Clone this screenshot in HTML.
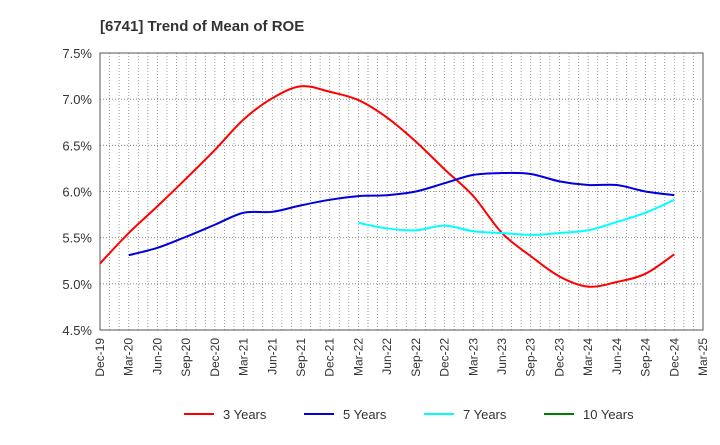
<!DOCTYPE html>
<html><head><meta charset="utf-8"><style>
body{margin:0;background:#fff;font-family:"Liberation Sans",sans-serif;}
</style></head><body>
<svg width="720" height="440" xmlns="http://www.w3.org/2000/svg" font-family="Liberation Sans, sans-serif">
<text x="100" y="31" font-size="15" font-weight="bold" fill="#333">[6741]  Trend of Mean of ROE</text>
<g id="grid"></g><g id="axes"></g><g id="series"></g><g id="legend"></g>
</svg>
<script>
const xLabels=["Dec-19","Mar-20","Jun-20","Sep-20","Dec-20","Mar-21","Jun-21","Sep-21","Dec-21","Mar-22","Jun-22","Sep-22","Dec-22","Mar-23","Jun-23","Sep-23","Dec-23","Mar-24","Jun-24","Sep-24","Dec-24","Mar-25"];
const yTicks=[4.5,5.0,5.5,6.0,6.5,7.0,7.5];
const seriesNames=["3 Years","5 Years","7 Years","10 Years"];
const seriesColors=["#ff0000","#0000dd","#00ffff","#008000"];
const s3=[5.22,5.55,5.84,6.14,6.45,6.78,7.01,7.14,7.08,6.99,6.80,6.54,6.24,5.95,5.55,5.30,5.08,4.97,5.02,5.11,5.32];
const s5=[null,5.31,5.39,5.51,5.64,5.77,5.78,5.85,5.91,5.95,5.96,6.00,6.09,6.18,6.20,6.19,6.11,6.07,6.07,6.00,5.96];
const s7=[null,null,null,null,null,null,null,null,null,5.66,5.60,5.58,5.63,5.57,5.55,5.53,5.55,5.58,5.67,5.77,5.91];
const s10=[];
const L=100,R=703,T=53,B=330;
const xs=i=>L+i*(R-L)/(xLabels.length-1);
const ys=v=>B-(v-4.5)/(7.5-4.5)*(B-T);
const NS="http://www.w3.org/2000/svg";
function mk(tag,attrs,parent){const e=document.createElementNS(NS,tag);for(const k in attrs)e.setAttribute(k,attrs[k]);parent.appendChild(e);return e;}
const grid=document.getElementById('grid'),axes=document.getElementById('axes'),ser=document.getElementById('series'),leg=document.getElementById('legend');
for(let m=1;m<(xLabels.length-1)*3;m++){const x=L+m*(R-L)/((xLabels.length-1)*3);
 const g=mk('line',{x1:x,x2:x,y1:T,y2:B,stroke:'#888','stroke-dasharray':'1,2','stroke-width':0.8},grid);
 
 }
yTicks.forEach(v=>{const y=ys(v);
 const g=mk('line',{x1:L,x2:R,y1:y,y2:y,stroke:'#777','stroke-dasharray':'1,2','stroke-width':0.8},grid);
 
 
 const t=mk('text',{x:L-8,y:y+5,'text-anchor':'end','font-size':13,fill:'#333'},axes);t.textContent=v.toFixed(1)+'%';
 
 });
const fr=mk('rect',{x:L,y:T,width:R-L,height:B-T,fill:'none',stroke:'#555','stroke-width':1},axes);


xLabels.forEach((lab,i)=>{const x=xs(i);
 const t=mk('text',{transform:`translate(${x+4},${B+8}) rotate(-90)`,'text-anchor':'end','font-size':12,fill:'#333'},axes);t.textContent=lab;
 
 });
function path(arr){const p=[];arr.forEach((v,i)=>{if(v!=null)p.push([xs(i),ys(v)]);});
 if(p.length<2)return '';let d=`M${p[0][0]},${p[0][1]}`;
 for(let i=0;i<p.length-1;i++){const p0=p[i-1]||p[i],p1=p[i],p2=p[i+1],p3=p[i+2]||p2;
  d+=` C${p1[0]+(p2[0]-p0[0])/6},${p1[1]+(p2[1]-p0[1])/6} ${p2[0]-(p3[0]-p1[0])/6},${p2[1]-(p3[1]-p1[1])/6} ${p2[0]},${p2[1]}`;}
 return d;}
[s3,s5,s7,s10].forEach((arr,k)=>{const d=path(arr);if(!d)return;
 const e=mk('path',{d:d,fill:'none',stroke:seriesColors[k],'stroke-width':2},ser);
 
 });
const lx=[184,304,424,544];
seriesNames.forEach((n,k)=>{
 const l=mk('line',{x1:lx[k],x2:lx[k]+30,y1:414,y2:414,stroke:seriesColors[k],'stroke-width':2},leg);
 
 
 const t=mk('text',{x:lx[k]+39,y:419,'font-size':13,fill:'#333'},leg);t.textContent=n;
 
 });
</script>
</body></html>
